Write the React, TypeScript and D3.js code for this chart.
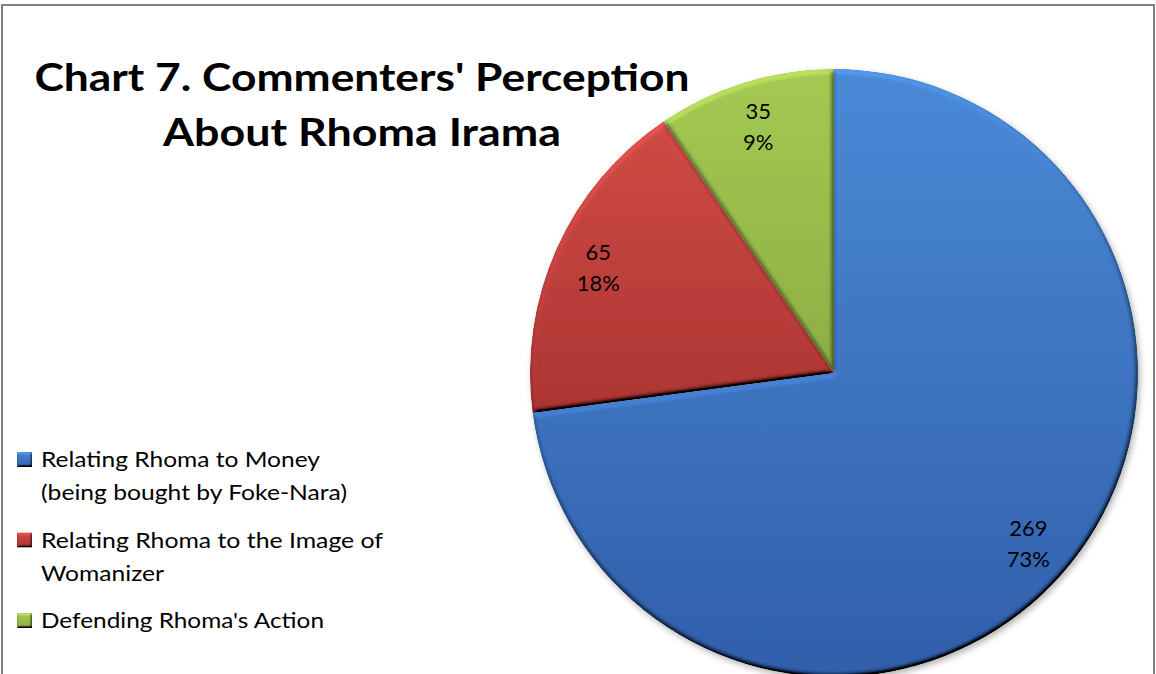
import React from "react";
import * as d3 from "d3";

// ---- data ----
const categories = [
  "Relating Rhoma to Money (being bought by Foke-Nara)",
  "Relating Rhoma to the Image of Womanizer",
  "Defending Rhoma's Action",
];
const legendLines = [
  ["Relating Rhoma to Money", "(being bought by Foke-Nara)"],
  ["Relating Rhoma to the Image of", "Womanizer"],
  ["Defending Rhoma's Action"],
];
const values = [269, 65, 35];
const titleLines = ["Chart 7. Commenters' Perception", "About Rhoma Irama"];

// ---- styles ----
const colorsTop = ["#4a8ad7", "#d04a46", "#a5ca53"];
const colorsBottom = ["#315fab", "#ad3533", "#8eae44"];
const legendWidths = [[279, 306], [342, 123], [283]];
const titleWidths = [655, 398];

const W = 1156;
const H = 674;
const cx = 834;
const cy = 373;
const R = 304;

export default function App() {
  const total = d3.sum(values);
  const pie = d3.pie<number>().sort(null).value((d) => d).startAngle(0).endAngle(2 * Math.PI);
  const arcs = pie(values);
  const arc = d3.arc<d3.PieArcDatum<number>>().innerRadius(0).outerRadius(R);
  const labelArc = d3.arc<d3.PieArcDatum<number>>().innerRadius(R * 0.85).outerRadius(R * 0.85);
  const pct = d3.format(".0%");

  // legend layout
  const lineH = 33;
  const itemGap = 14.5;
  let yCursor = 467;
  const legendPos = legendLines.map((lines) => {
    const base = yCursor;
    yCursor += lines.length * lineH + itemGap;
    return base;
  });

  const font = "Lato, Carlito, Calibri, 'Open Sans', sans-serif";

  return (
    <svg
      width={W}
      height={H}
      viewBox={`0 0 ${W} ${H}`}
      style={{ position: "absolute", left: 0, top: 0, background: "#fff" }}
    >
      <defs>
        {values.map((_, i) => (
          <linearGradient key={i} id={`g${i}`} x1="0" y1="0" x2="0" y2="1">
            <stop offset="0%" stopColor={colorsTop[i]} />
            <stop offset="100%" stopColor={colorsBottom[i]} />
          </linearGradient>
        ))}
        <filter id="bevel" x="-5%" y="-5%" width="110%" height="110%">
          <feGaussianBlur in="SourceAlpha" stdDeviation="2.5" result="blur" />
          <feDiffuseLighting in="blur" surfaceScale="5" diffuseConstant="1" lightingColor="#ffffff" result="diff">
            <feDistantLight azimuth={250} elevation={50} />
          </feDiffuseLighting>
          <feComposite in="SourceGraphic" in2="diff" operator="arithmetic" k1={1.3} k2={0} k3={0} k4={0} result="lit" />
          <feComposite in="lit" in2="SourceAlpha" operator="in" />
        </filter>
        <filter id="bevelSmall" x="-20%" y="-20%" width="140%" height="140%">
          <feGaussianBlur in="SourceAlpha" stdDeviation="1.2" result="blur" />
          <feDiffuseLighting in="blur" surfaceScale="3" diffuseConstant="1" lightingColor="#ffffff" result="diff">
            <feDistantLight azimuth={250} elevation={50} />
          </feDiffuseLighting>
          <feComposite in="SourceGraphic" in2="diff" operator="arithmetic" k1={1.3} k2={0} k3={0} k4={0} result="lit" />
          <feComposite in="lit" in2="SourceAlpha" operator="in" />
        </filter>
        <filter id="shadow" x="-10%" y="-10%" width="120%" height="120%">
          <feDropShadow dx={2} dy={3} stdDeviation={3} floodColor="#000" floodOpacity={0.3} />
        </filter>
      </defs>

      {/* chart frame */}
      <rect x={2} y={5} width={1152} height={720} fill="#fff" stroke="#808080" strokeWidth={2} />

      {/* title */}
      {titleLines.map((t, i) => (
        <text
          key={i}
          x={362}
          y={91 + i * 55}
          textAnchor="middle"
          fontFamily={font}
          fontWeight={700}
          fontSize={38}
          fill="#000"
          textLength={titleWidths[i]}
          lengthAdjust="spacingAndGlyphs"
        >
          {t}
        </text>
      ))}

      {/* pie */}
      <g filter="url(#shadow)">
        <g transform={`translate(${cx},${cy})`}>
          {arcs.map((a, i) => (
            <path key={i} d={arc(a) || ""} fill={`url(#g${i})`} filter="url(#bevel)">
              <title>{categories[i]}</title>
            </path>
          ))}
        </g>
      </g>

      {/* data labels */}
      <g transform={`translate(${cx},${cy})`}>
        {arcs.map((a, i) => {
          const [lx, ly] = labelArc.centroid(a);
          return (
            <text key={i} x={lx} y={ly} textAnchor="middle" fontFamily={font} fontSize={22} fill="#000">
              <tspan x={lx} dy={-7.5}>{values[i]}</tspan>
              <tspan x={lx} dy={31}>{pct(values[i] / total)}</tspan>
            </text>
          );
        })}
      </g>

      {/* legend */}
      {legendLines.map((lines, i) => (
        <g key={i}>
          <rect
            x={17}
            y={legendPos[i] - 15}
            width={15}
            height={15}
            fill={`url(#g${i})`}
            filter="url(#bevelSmall)"
          />
          {lines.map((ln, j) => (
            <text
              key={j}
              x={41}
              y={legendPos[i] + j * lineH}
              fontFamily={font}
              fontSize={22}
              fill="#000"
              textLength={legendWidths[i][j]}
              lengthAdjust="spacingAndGlyphs"
            >
              {ln}
            </text>
          ))}
        </g>
      ))}
    </svg>
  );
}
